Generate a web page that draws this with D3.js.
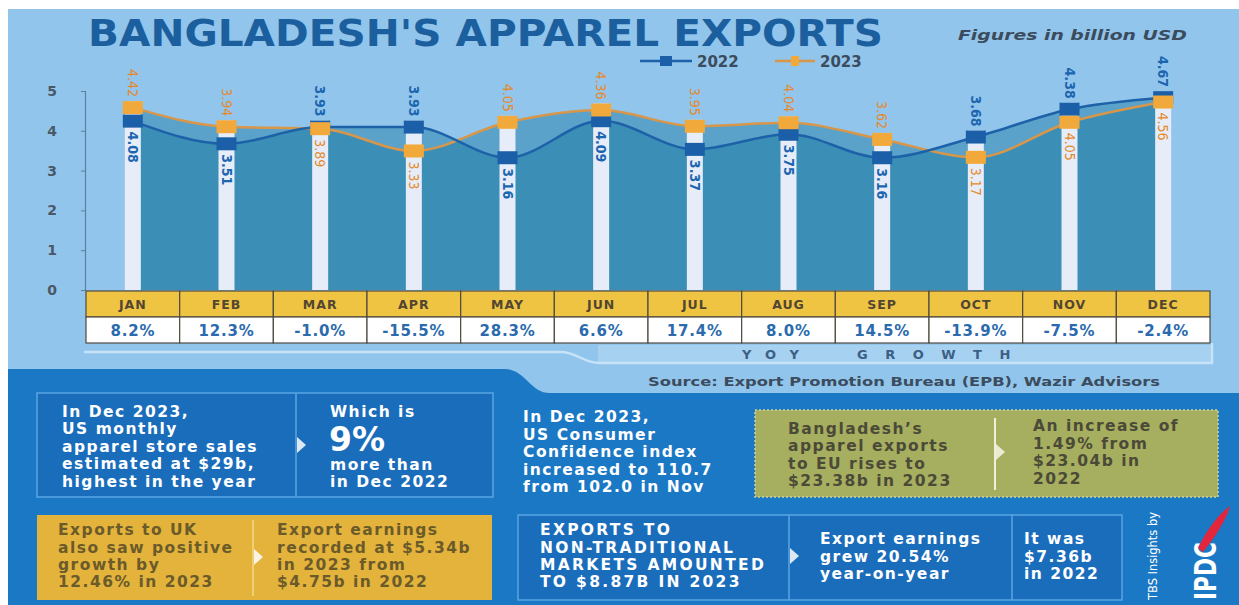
<!DOCTYPE html>
<html>
<head>
<meta charset="utf-8">
<script src="https://cdn.jsdelivr.net/npm/d3@7"></script>
<style>
  html, body { margin: 0; padding: 0; background: #ffffff; }
  svg { display: block; }
</style>
</head>
<body>
<div id="chart"></div>
<script>
// ---------------- DATA ----------------
const months = ["JAN","FEB","MAR","APR","MAY","JUN","JUL","AUG","SEP","OCT","NOV","DEC"];
const exports2022 = [4.08, 3.51, 3.93, 3.93, 3.16, 4.09, 3.37, 3.75, 3.16, 3.68, 4.38, 4.67];
const exports2023 = [4.42, 3.94, 3.89, 3.33, 4.05, 4.36, 3.95, 4.04, 3.62, 3.17, 4.05, 4.56];
const yoyGrowth = ["8.2%","12.3%","-1.0%","-15.5%","28.3%","6.6%","17.4%","8.0%","14.5%","-13.9%","-7.5%","-2.4%"];
const yTicks = [0, 1, 2, 3, 4, 5];
const seriesNames = ["2022", "2023"];

// ---------------- SETUP ----------------
const W = 1239, H = 605;
const svg = d3.select("#chart").append("svg").attr("width", W).attr("height", H);

const C = {
  bgLight: "#92c5eb",
  panel: "#1b78c4",
  box: "#1a6dbb",
  boxBorder: "#5aa5e4",
  title: "#1b5f9f",
  blue: "#1a5fa8",
  blueLine: "#1d62a8",
  orange: "#f2a93b",
  orangeLine: "#d8964a",
  orangeText: "#e5892c",
  blueText: "#1c66b0",
  area: "#16779f",
  bar: "#e6ecf8",
  yellowHead: "#efc443",
  grid: "#4f4a40",
  dark: "#3b4c5e"
};
const FONT = "'DejaVu Sans', Verdana, sans-serif";
const FONT_C = "'DejaVu Sans Condensed', 'Liberation Sans Narrow', 'DejaVu Sans', sans-serif";

// backgrounds
svg.append("rect").attr("width", W).attr("height", H).attr("fill", "#ffffff");
svg.append("rect").attr("x", 8).attr("y", 9).attr("width", W - 8).attr("height", H - 9).attr("fill", C.bgLight);
svg.append("path")
  .attr("d", "M8,369 H505 C525,369 530,393 550,393 H1239 V605 H8 Z")
  .attr("fill", C.panel);

// title
svg.append("text").attr("x", 88).attr("y", 46)
  .attr("font-family", FONT).attr("font-weight", 900).attr("font-size", 38)
  .attr("fill", C.title).attr("textLength", 795).attr("lengthAdjust", "spacingAndGlyphs")
  .text("BANGLADESH'S APPAREL EXPORTS");
svg.append("text").attr("x", 958).attr("y", 40)
  .attr("font-family", FONT).attr("font-weight", "bold").attr("font-style", "italic").attr("font-size", 14)
  .attr("fill", C.dark).attr("textLength", 229).attr("lengthAdjust", "spacingAndGlyphs")
  .text("Figures in billion USD");

// legend
const legend = [
  {name: seriesNames[0], x0: 640, x1: 692, line: C.blueLine, mark: C.blue, tx: 697, mw: 12},
  {name: seriesNames[1], x0: 775, x1: 815, line: C.orangeLine, mark: C.orange, tx: 820, mw: 8}
];
legend.forEach(l => {
  svg.append("line").attr("x1", l.x0).attr("x2", l.x1).attr("y1", 61).attr("y2", 61)
    .attr("stroke", l.line).attr("stroke-width", 2.5);
  svg.append("rect").attr("x", (l.x0 + l.x1) / 2 - l.mw / 2).attr("y", 56).attr("width", l.mw).attr("height", 10)
    .attr("fill", l.mark);
  svg.append("text").attr("x", l.tx).attr("y", 67).attr("font-family", FONT).attr("font-weight", "bold")
    .attr("font-size", 15).attr("fill", C.dark).text(l.name);
});

// ---------------- SCALES ----------------
const x = d3.scaleBand().domain(months).range([86, 1210]).padding(0);
const cx = m => x(m) + x.bandwidth() / 2;
const y = d3.scaleLinear().domain([0, 5]).range([290, 91]);
const MH = 13; // marker height
const mid = v => y(v) - MH / 2;

// axis
const axis = svg.append("g").attr("transform", "translate(85,0)")
  .call(d3.axisLeft(y).tickValues(yTicks).tickSize(4).tickPadding(24).tickFormat(d3.format("d")));
axis.select(".domain").attr("stroke", "#5f7f9f").attr("stroke-width", 1.2);
axis.selectAll(".tick line").attr("stroke", "#5f7f9f");
axis.selectAll(".tick text").attr("font-family", FONT).attr("font-weight", "bold").attr("font-size", 14)
  .attr("fill", "#4a5866");

// areas
const data22 = months.map((m, i) => ({m, v: exports2022[i]}));
const data23 = months.map((m, i) => ({m, v: exports2023[i]}));
const area = d3.area().x(d => cx(d.m)).y0(y(0)).y1(d => mid(d.v)).curve(d3.curveMonotoneX);
const line = d3.line().x(d => cx(d.m)).y(d => mid(d.v)).curve(d3.curveMonotoneX);

svg.append("path").datum(data23).attr("d", area).attr("fill", C.area).attr("fill-opacity", 0.45);
svg.append("path").datum(data22).attr("d", area).attr("fill", C.area).attr("fill-opacity", 0.45);

// white bars
svg.append("g").selectAll("rect").data(months).join("rect")
  .attr("x", m => cx(m) - 8).attr("width", 16)
  .attr("y", (m, i) => y(Math.max(exports2022[i], exports2023[i])) - MH)
  .attr("height", (m, i) => y(0) - (y(Math.max(exports2022[i], exports2023[i])) - MH))
  .attr("fill", C.bar);

// lines
svg.append("path").datum(data23).attr("d", line).attr("fill", "none").attr("stroke", C.orangeLine).attr("stroke-width", 2.5);
svg.append("path").datum(data22).attr("d", line).attr("fill", "none").attr("stroke", C.blueLine).attr("stroke-width", 2.5);

// markers
[[data22, C.blue], [data23, C.orange]].forEach(([data, col]) => {
  svg.append("g").selectAll("rect").data(data).join("rect")
    .attr("x", d => cx(d.m) - 10).attr("width", 20)
    .attr("y", d => y(d.v) - MH).attr("height", MH)
    .attr("fill", col);
});

// value labels (rotated)
months.forEach((m, i) => {
  const a = exports2022[i], b = exports2023[i];
  const items = [
    {v: a, col: C.blueText, w: "bold"},
    {v: b, col: C.orangeText, w: "normal"}
  ];
  const hi = a >= b ? items[0] : items[1];
  const lo = a >= b ? items[1] : items[0];
  svg.append("text")
    .attr("transform", `translate(${cx(m)},${y(hi.v) - MH - 4}) rotate(90)`)
    .attr("text-anchor", "end").attr("dominant-baseline", "central")
    .attr("font-family", FONT_C).attr("font-weight", hi.w).attr("font-size", 14)
    .attr("fill", hi.col).text(hi.v.toFixed(2));
  svg.append("text")
    .attr("transform", `translate(${cx(m)},${y(lo.v) + 4}) rotate(90)`)
    .attr("text-anchor", "start").attr("dominant-baseline", "central")
    .attr("font-family", FONT_C).attr("font-weight", lo.w).attr("font-size", 14)
    .attr("fill", lo.col).text(lo.v.toFixed(2));
});

// ---------------- TABLE ----------------
const tbl = svg.append("g");
tbl.selectAll("rect.h").data(months).join("rect").attr("class", "h")
  .attr("x", m => x(m)).attr("y", 291).attr("width", x.bandwidth()).attr("height", 26)
  .attr("fill", C.yellowHead).attr("stroke", C.grid).attr("stroke-width", 1.2);
tbl.selectAll("rect.p").data(months).join("rect").attr("class", "p")
  .attr("x", m => x(m)).attr("y", 317).attr("width", x.bandwidth()).attr("height", 26)
  .attr("fill", "#ffffff").attr("stroke", C.grid).attr("stroke-width", 1.2);
tbl.selectAll("text.h").data(months).join("text").attr("class", "h")
  .attr("x", m => cx(m)).attr("y", 309).attr("text-anchor", "middle")
  .attr("font-family", FONT).attr("font-weight", 900).attr("font-size", 12.5).attr("letter-spacing", 1)
  .attr("fill", "#524632").text(m => m);
tbl.selectAll("text.p").data(months).join("text").attr("class", "p")
  .attr("x", m => cx(m)).attr("y", 336).attr("text-anchor", "middle")
  .attr("font-family", FONT).attr("font-weight", "bold").attr("font-size", 15).attr("letter-spacing", 0.8)
  .attr("fill", "#2a6aad").text((m, i) => yoyGrowth[i]);

// YOY band + decorative line
svg.append("rect").attr("x", 598).attr("y", 345).attr("width", 614).attr("height", 18).attr("fill", "#a6d1f1");
svg.append("path").attr("d", "M84,352 H560 C578,352 582,363 600,363 H1212 V343")
  .attr("fill", "none").attr("stroke", "#c6e3f8").attr("stroke-width", 2.5);
svg.append("text").attr("x", 742).attr("y", 359).attr("font-family", FONT).attr("font-weight", "bold")
  .attr("font-size", 13).attr("letter-spacing", 14).attr("fill", "#3d5f85").text("YOY");
svg.append("text").attr("x", 857).attr("y", 359).attr("font-family", FONT).attr("font-weight", "bold")
  .attr("font-size", 13).attr("letter-spacing", 17.5).attr("fill", "#3d5f85").text("GROWTH");

svg.append("text").attr("x", 648).attr("y", 386).attr("font-family", FONT).attr("font-weight", "bold")
  .attr("font-size", 13).attr("fill", C.dark).attr("textLength", 512).attr("lengthAdjust", "spacingAndGlyphs")
  .text("Source: Export Promotion Bureau (EPB), Wazir Advisors");

// ---------------- BOTTOM BOXES ----------------
function lines(xp, baselines, arr, opts) {
  const o = Object.assign({size: 15.5, color: "#ffffff", ls: 1.5, weight: "bold"}, opts || {});
  arr.forEach((t, i) => {
    svg.append("text").attr("x", xp).attr("y", baselines[i])
      .attr("font-family", FONT).attr("font-weight", o.weight).attr("font-size", o.size)
      .attr("letter-spacing", o.ls).attr("fill", o.color).text(t);
  });
}
function arrow(xp, yp, col) {
  svg.append("path").attr("d", `M${xp},${yp - 8} L${xp + 9},${yp} L${xp},${yp + 8} Z`)
    .attr("fill", col || "#ffffff").attr("fill-opacity", 0.85);
}

// Box 1
svg.append("rect").attr("x", 37).attr("y", 393).attr("width", 456).attr("height", 104)
  .attr("fill", C.box).attr("stroke", C.boxBorder).attr("stroke-width", 1.5);
svg.append("line").attr("x1", 296).attr("x2", 296).attr("y1", 393).attr("y2", 497)
  .attr("stroke", C.boxBorder).attr("stroke-width", 1.5);
arrow(297, 445);
lines(62, [417, 434, 452, 469, 487],
  ["In Dec 2023,", "US monthly", "apparel store sales", "estimated at $29b,", "highest in the year"]);
lines(330, [417], ["Which is"]);
svg.append("text").attr("x", 329).attr("y", 451).attr("font-family", FONT).attr("font-weight", "bold")
  .attr("font-size", 33).attr("fill", "#ffffff").text("9%");
lines(330, [470, 487], ["more than", "in Dec 2022"]);

// Text 2
lines(523, [422, 440, 457, 475, 492],
  ["In Dec 2023,", "US Consumer", "Confidence index", "increased to 110.7", "from 102.0 in Nov"]);

// Box 3 (olive)
svg.append("rect").attr("x", 755).attr("y", 410).attr("width", 463).attr("height", 87)
  .attr("fill", "#a6ae5f").attr("stroke", "#cfd39a").attr("stroke-width", 1.5).attr("stroke-dasharray", "2,2");
svg.append("line").attr("x1", 995).attr("x2", 995).attr("y1", 418).attr("y2", 490)
  .attr("stroke", "#eef0d8").attr("stroke-width", 2);
arrow(996, 452, "#f4f6e6");
lines(788, [434, 451, 469, 486],
  ["Bangladesh\u2019s", "apparel exports", "to EU rises to", "$23.38b in 2023"], {color: "#4b4a38"});
lines(1033, [431, 449, 466, 484],
  ["An increase of", "1.49% from", "$23.04b in", "2022"], {color: "#4b4a38"});

// Box 4 (yellow)
svg.append("rect").attr("x", 37).attr("y", 515).attr("width", 455).attr("height", 85)
  .attr("fill", "#e3b33c");
svg.append("line").attr("x1", 253).attr("x2", 253).attr("y1", 520).attr("y2", 596)
  .attr("stroke", "#f3d88a").attr("stroke-width", 1.5);
arrow(254, 557);
lines(58, [535, 553, 570, 587],
  ["Exports to UK", "also saw positive", "growth by", "12.46% in 2023"], {color: "#6b5a2a"});
lines(277, [535, 553, 570, 587],
  ["Export earnings", "recorded at $5.34b", "in 2023 from", "$4.75b in 2022"], {color: "#6b5a2a"});

// Box 5 (blue)
svg.append("rect").attr("x", 518).attr("y", 515).attr("width", 604).attr("height", 85)
  .attr("fill", C.box).attr("stroke", C.boxBorder).attr("stroke-width", 1.5);
svg.append("line").attr("x1", 789).attr("x2", 789).attr("y1", 515).attr("y2", 600)
  .attr("stroke", C.boxBorder).attr("stroke-width", 1.5);
svg.append("line").attr("x1", 1012).attr("x2", 1012).attr("y1", 515).attr("y2", 600)
  .attr("stroke", C.boxBorder).attr("stroke-width", 1.5);
arrow(790, 556);
lines(540, [535, 553, 570, 587],
  ["EXPORTS TO", "NON-TRADITIONAL", "MARKETS AMOUNTED", "TO $8.87B IN 2023"], {ls: 2.3});
lines(820, [544, 562, 579], ["Export earnings", "grew 20.54%", "year-on-year"]);
lines(1024, [544, 562, 579], ["It was", "$7.36b", "in 2022"]);

// Credit / logo
svg.append("text").attr("transform", "translate(1157,600) rotate(-90)")
  .attr("font-family", FONT_C).attr("font-size", 13).attr("fill", "#ffffff")
  .attr("textLength", 88).attr("lengthAdjust", "spacingAndGlyphs").text("TBS Insights by");
svg.append("text").attr("transform", "translate(1216,600) rotate(-90)")
  .attr("font-family", FONT).attr("font-weight", 900).attr("font-size", 30).attr("fill", "#ffffff")
  .attr("textLength", 58).attr("lengthAdjust", "spacingAndGlyphs").text("IPDC");
svg.append("path")
  .attr("d", "M1198,548 C1206,532 1216,516 1230,506 C1226,520 1216,536 1203,552 Z")
  .attr("fill", "#e3263b");
</script>
</body>
</html>
